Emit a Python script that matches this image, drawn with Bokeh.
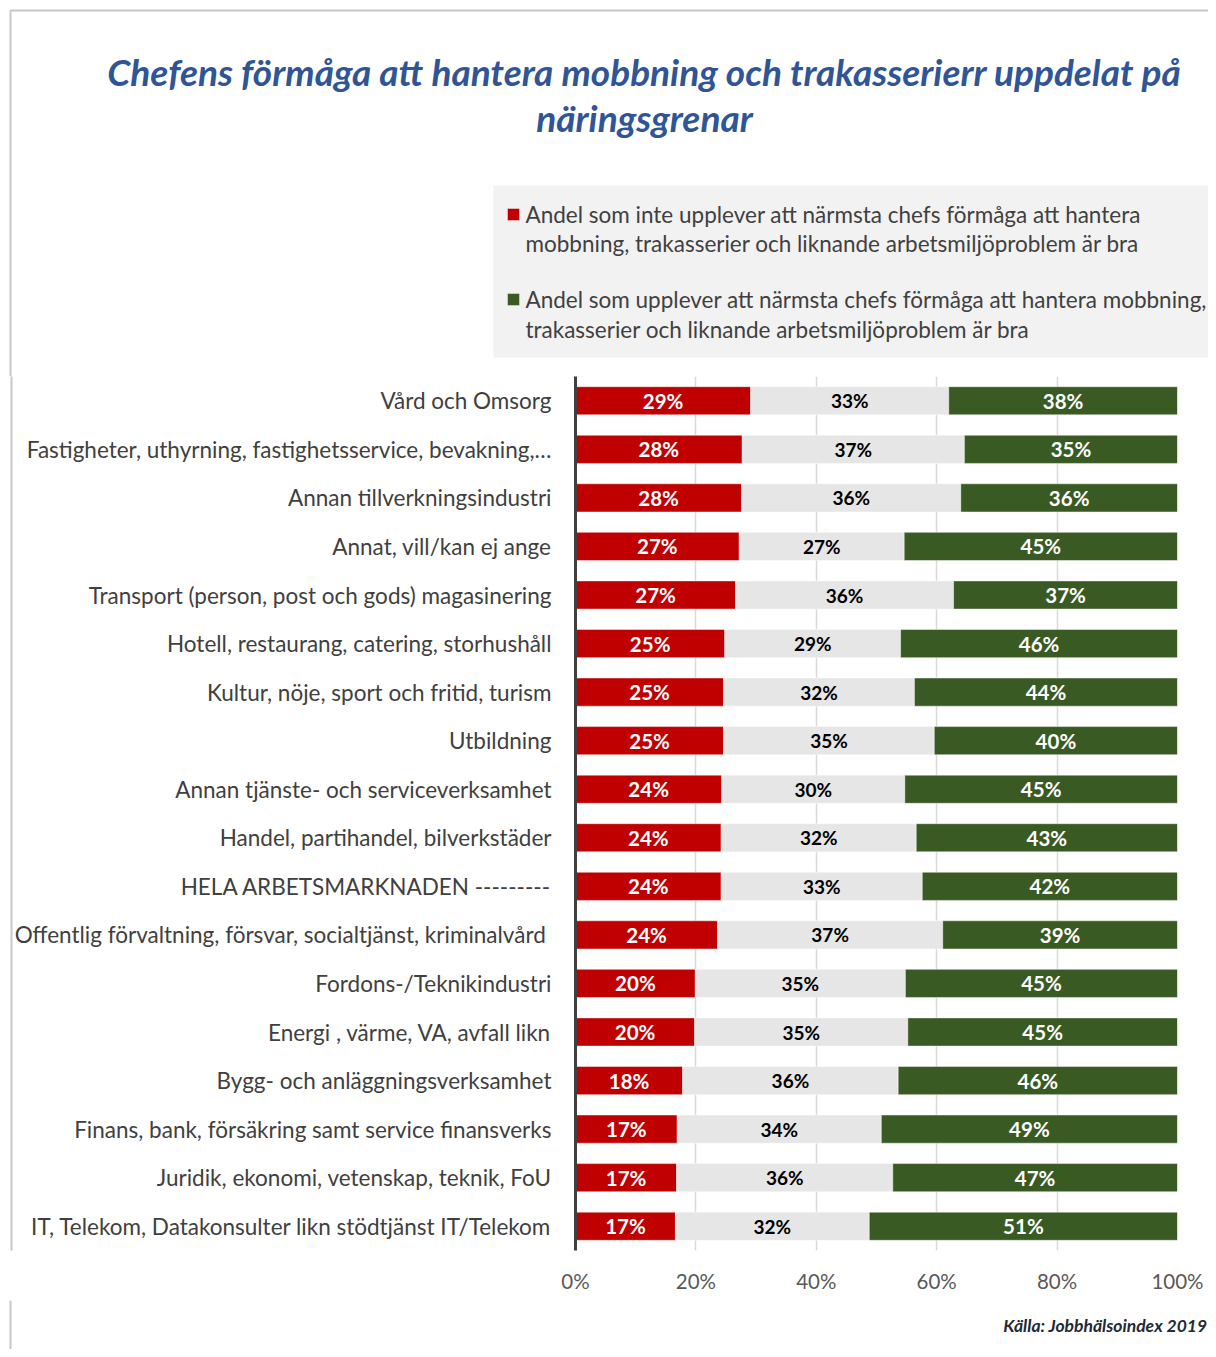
from bokeh.plotting import figure
from bokeh.layouts import column
from bokeh.models import (ColumnDataSource, FactorRange, Range1d, FixedTicker,
                          PrintfTickFormatter, CategoricalAxis)
from bokeh.core.properties import value
from bokeh.embed import file_html
from bokeh.resources import INLINE

categories = [
    "Vård och Omsorg",
    "Fastigheter, uthyrning, fastighetsservice, bevakning,…",
    "Annan tillverkningsindustri",
    "Annat, vill/kan ej ange",
    "Transport (person, post och gods) magasinering",
    "Hotell, restaurang, catering, storhushåll",
    "Kultur, nöje, sport och fritid, turism",
    "Utbildning",
    "Annan tjänste- och serviceverksamhet",
    "Handel, partihandel, bilverkstäder",
    "HELA ARBETSMARKNADEN ---------",
    "Offentlig förvaltning, försvar,  socialtjänst, kriminalvård",
    "Fordons-/Teknikindustri",
    "Energi , värme, VA, avfall likn",
    "Bygg- och anläggningsverksamhet",
    "Finans, bank, försäkring samt service finansverks",
    "Juridik, ekonomi, vetenskap, teknik, FoU",
    "IT, Telekom, Datakonsulter likn stödtjänst IT/Telekom",
]
inte_bra = [29.1, 27.7, 27.6, 27.2, 26.6, 24.8, 24.6, 24.6, 24.3, 24.2, 24.2, 23.6, 19.9, 19.8, 17.8, 16.9, 16.8, 16.6]
mitten = [32.9, 36.9, 36.4, 27.4, 36.2, 29.2, 31.7, 35.0, 30.4, 32.4, 33.4, 37.4, 34.9, 35.4, 35.8, 33.9, 35.9, 32.2]
bra = [38.0, 35.4, 36.0, 45.4, 37.2, 46.0, 43.7, 40.4, 45.3, 43.4, 42.4, 39.0, 45.2, 44.8, 46.4, 49.2, 47.3, 51.2]
x_ticks = [0, 20, 40, 60, 80, 100]

title_lines = ["Chefens förmåga att hantera mobbning och trakasserierr uppdelat på",
               "näringsgrenar"]
legend_red = ["Andel som inte  upplever att närmsta chefs förmåga att hantera",
              "mobbning, trakasserier och liknande arbetsmiljöproblem  är bra"]
legend_green = ["Andel som upplever att närmsta chefs förmåga att hantera mobbning,",
                "trakasserier och liknande arbetsmiljöproblem   är bra"]
source_text = "Källa: Jobbhälsoindex 2019"

RED = "#C00000"
GREY = "#E6E6E6"
GREEN = "#3A5A24"
BORDER = "#C8C8C8"
TEXT = "#404040"
FONT = "Lato"

W = 1208
H_TOP, H_MAIN, H_BOT = 376, 924, 49


def canvas_fig(h, y0):
    f = figure(width=W, height=h, x_range=Range1d(0, W), y_range=Range1d(y0 + h, y0),
               x_axis_type=None, y_axis_type=None, title=None, frame_align=False,
               output_backend="svg", toolbar_location=None,
               min_border_left=0, min_border_right=0, min_border_top=0, min_border_bottom=0)
    f.outline_line_color = None
    f.background_fill_color = "white"
    f.border_fill_color = "white"
    return f


# ---------- header: title + legend ----------
top = canvas_fig(H_TOP, 0)
top.line(x=[10, 10, W], y=[H_TOP, 10, 10], line_color=BORDER, line_width=2)
top.text(x=[644, 644], y=[71, 117], text=title_lines, text_font=value(FONT),
         text_font_style="bold italic", text_font_size="37px", text_color="#2F5597",
         text_align="center", text_baseline="middle")
top.quad(left=[493], right=[W], top=[185], bottom=[357], fill_color="#F2F2F2", line_color=None)
top.rect(x=[513, 513], y=[214, 299], width=12, height=12, fill_color=[RED, GREEN],
         line_color="white", line_alpha=0.4, line_width=1)
top.text(x=[525] * 4, y=[214, 243, 299, 329], text=legend_red + legend_green,
         text_font=value(FONT), text_font_size="22.5px", text_color=TEXT,
         text_align="left", text_baseline="middle")

# ---------- main chart ----------
src = ColumnDataSource(dict(
    cat=categories, inte_bra=inte_bra, mitten=mitten, bra=bra,
    x_red=[a / 2 for a in inte_bra],
    x_grey=[a + b / 2 for a, b in zip(inte_bra, mitten)],
    x_green=[a + b + c / 2 for a, b, c in zip(inte_bra, mitten, bra)],
    t_red=[f"{round(v)}%" for v in inte_bra],
    t_grey=[f"{round(v)}%" for v in mitten],
    t_green=[f"{round(v)}%" for v in bra],
))

p = figure(width=W, height=H_MAIN, output_backend="svg", toolbar_location=None, title=None,
           frame_align=False,
           y_range=FactorRange(factors=list(reversed(categories)), range_padding=0),
           x_range=Range1d(0, 100),
           min_border_left=575, min_border_right=W - 1177,
           min_border_top=0, min_border_bottom=H_MAIN - (1250 - H_TOP))
p.outline_line_color = None
p.background_fill_color = "white"
p.border_fill_color = "white"

p.hbar_stack(["inte_bra", "mitten", "bra"], y="cat", height=0.58, source=src,
             color=[RED, GREY, GREEN], line_color="white", line_alpha=0.45, line_width=1)

p.text(x="x_red", y="cat", text="t_red", source=src, text_color="white",
       text_font=value(FONT), text_font_style="bold", text_font_size="20.5px",
       text_align="center", text_baseline="middle")
p.text(x="x_grey", y="cat", text="t_grey", source=src, text_color="black",
       text_font=value(FONT), text_font_style="bold", text_font_size="19px",
       text_align="center", text_baseline="middle")
p.text(x="x_green", y="cat", text="t_green", source=src, text_color="white",
       text_font=value(FONT), text_font_style="bold", text_font_size="20.5px",
       text_align="center", text_baseline="middle")

yax = p.yaxis[0]
yax.axis_line_color = TEXT
yax.axis_line_width = 3
yax.major_tick_line_color = None
yax.minor_tick_line_color = None
yax.major_label_standoff = 18
yax.major_label_text_font = FONT
yax.major_label_text_font_size = "22.5px"
yax.major_label_text_color = TEXT

p.xaxis.ticker = FixedTicker(ticks=x_ticks)
p.xaxis.formatter = PrintfTickFormatter(format="%d%%")
p.xaxis.axis_line_color = None
p.xaxis.major_tick_line_color = None
p.xaxis.minor_tick_line_color = None
p.xaxis.major_label_standoff = 12
p.xaxis.major_label_text_font = FONT
p.xaxis.major_label_text_font_size = "20.5px"
p.xaxis.major_label_text_color = "#595959"

p.xgrid.grid_line_color = "#D9D9D9"
p.xgrid.grid_line_width = 1.5
p.ygrid.grid_line_color = None

# light outer frame line on the left (an extra, empty axis)
p.extra_y_ranges = {"edge": FactorRange(factors=[" "])}
edge = CategoricalAxis(y_range_name="edge",
                       axis_line_color=BORDER, axis_line_width=2,
                       major_tick_line_color=None, minor_tick_line_color=None,
                       major_label_text_font_size="1px", major_label_text_color="white",
                       major_label_standoff=0)
p.add_layout(edge, "left")

# ---------- footer ----------
bot = canvas_fig(H_BOT, H_TOP + H_MAIN)
bot.line(x=[10, 10], y=[H_TOP + H_MAIN, H_TOP + H_MAIN + H_BOT], line_color=BORDER, line_width=2)
bot.text(x=[1207], y=[1325], text=[source_text], text_font=value(FONT),
         text_font_style="bold italic", text_font_size="17.5px", text_color="#222A35",
         text_align="right", text_baseline="middle")

layout = column(top, p, bot, spacing=0)
open("out.html", "w").write(file_html(layout, INLINE))
